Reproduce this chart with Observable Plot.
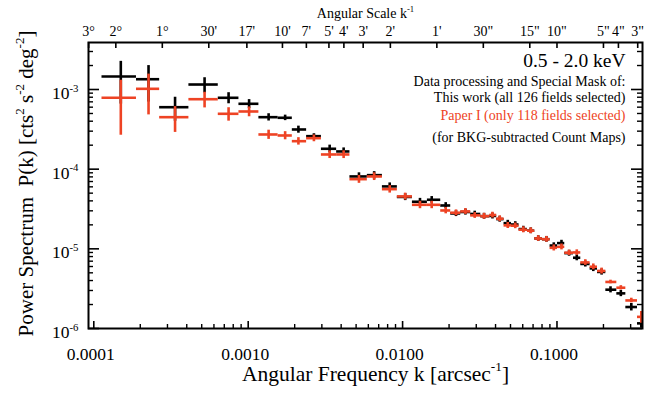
<!DOCTYPE html>
<html><head><meta charset="utf-8">
<script src="https://cdn.jsdelivr.net/npm/d3@7"></script>
<script src="https://cdn.jsdelivr.net/npm/@observablehq/plot@0.6"></script>
<style>
html,body{margin:0;padding:0;background:#fff}
svg{font-family:"Liberation Serif","Times New Roman",serif}
</style>
</head><body><div id="chart"></div>
<script>
// ---- data ----
const binEdges = [1.13e-4, 1.89e-4, 2.67e-4, 4.13e-4, 6.40e-4, 8.71e-4, 1.173e-3, 1.562e-3, 1.931e-3, 2.39e-3,
  2.98e-3, 3.74e-3, 4.56e-3, 5.91e-3, 7.40e-3, 9.25e-3, 0.01158, 0.01448, 0.01766, 0.0205,
  0.0238, 0.0276, 0.0321, 0.0367, 0.0407, 0.0454, 0.0507, 0.0568, 0.0644, 0.0718,
  0.0805, 0.0902, 0.1008, 0.1123, 0.1279, 0.1426, 0.1639, 0.1830, 0.2072, 0.2441,
  0.2792, 0.3324, 0.3707];
const kCenter = [1.496e-4, 2.262e-4, 3.36e-4, 5.218e-4, 7.464e-4, 1.0135e-3, 1.356e-3, 1.735e-3, 2.115e-3, 2.665e-3,
  3.37e-3, 4.151e-3, 5.218e-3, 6.545e-3, 8.251e-3, 0.010396, 0.012963, 0.015441, 0.019025, 0.022182,
  0.025527, 0.029325, 0.0337, 0.038194, 0.042584, 0.047998, 0.053674, 0.060497, 0.067639, 0.075619,
  0.085477, 0.095339, 0.10694, 0.11978, 0.13433, 0.15259, 0.17188, 0.19454, 0.22218, 0.25916,
  0.30304, 0.3517];
const pBlack = [1.456e-3, 1.346e-3, 5.995e-4, 1.155e-3, 7.867e-4, 6.616e-4, 4.493e-4, 4.416e-4, 3.148e-4, 2.595e-4,
  1.803e-4, 1.668e-4, 8.1e-5, 8.41e-5, 6.07e-5, 4.48e-5, 3.90e-5, 4.13e-5, 3.50e-5, 2.78e-5,
  2.90e-5, 2.74e-5, 2.57e-5, 2.59e-5, 2.36e-5, 2.10e-5, 2.02e-5, 1.77e-5, 1.69e-5, 1.35e-5,
  1.32e-5, 1.10e-5, 1.18e-5, 8.83e-6, 7.73e-6, 6.46e-6, 5.68e-6, 5.13e-6, 3.07e-6, 2.76e-6,
  1.86e-6, 1.16e-6];
const eBlack = [8.0e-4, 6.5e-4, 2.0e-4, 2.5e-4, 1.25e-4, 8.5e-5, 4.7e-5, 3.5e-5, 3.2e-5, 1.9e-5,
  2.0e-5, 1.8e-5, 9e-6, 9e-6, 6.5e-6, 4.5e-6, 4e-6, 4e-6, 3e-6, 2.4e-6,
  2.5e-6, 2.3e-6, 2.2e-6, 2.2e-6, 2.0e-6, 1.8e-6, 1.7e-6, 1.5e-6, 1.4e-6, 1.1e-6,
  1.1e-6, 9e-7, 1.0e-6, 7.5e-7, 6.5e-7, 5.5e-7, 5e-7, 4.5e-7, 2.7e-7, 2.5e-7,
  2e-7, 1.5e-7];
const pRed = [7.867e-4, 1.020e-3, 4.493e-4, 7.554e-4, 4.955e-4, 5.297e-4, 2.725e-4, 2.647e-4, 2.245e-4, 2.449e-4,
  1.529e-4, 1.529e-4, 7.49e-5, 8.1e-5, 5.61e-5, 4.55e-5, 3.57e-5, 3.57e-5, 3.03e-5, 2.84e-5,
  2.95e-5, 2.63e-5, 2.57e-5, 2.66e-5, 2.39e-5, 1.97e-5, 1.95e-5, 1.74e-5, 1.69e-5, 1.35e-5,
  1.32e-5, 1.03e-5, 1.06e-5, 8.94e-6, 9.01e-6, 6.75e-6, 5.96e-6, 5.28e-6, 3.84e-6, 3.25e-6,
  2.25e-6, 1.40e-6];
const eRed = [5.2e-4, 5.4e-4, 1.6e-4, 1.68e-4, 9.5e-5, 7.5e-5, 3.6e-5, 3.1e-5, 2.4e-5, 2.4e-5,
  1.7e-5, 1.7e-5, 8.5e-6, 9e-6, 6e-6, 4.5e-6, 3.8e-6, 3.8e-6, 2.8e-6, 2.4e-6,
  2.5e-6, 2.2e-6, 2.2e-6, 2.2e-6, 2.0e-6, 1.7e-6, 1.6e-6, 1.5e-6, 1.4e-6, 1.1e-6,
  1.1e-6, 9e-7, 9e-7, 7e-7, 7e-7, 5.5e-7, 5e-7, 4.5e-7, 2e-7, 2e-7,
  1.5e-7, 2.4e-7];
const angScaleArcsec = [10800, 7200, 3600, 1800, 1020, 600, 420, 300, 240, 180, 120, 60, 30, 15, 10, 5, 4, 3];
const angLabels = ["3°", "2°", "1°", "30'", "17'", "10'", "7'", "5'", "4'", "3'", "2'", "1'", "30\"", "15\"", "10\"", "5\"", "4\"", "3\""];
const xTicks = [1e-4, 1e-3, 1e-2, 1e-1];
const yTicks = [1e-6, 1e-5, 1e-4, 1e-3];
const noteLines = ["0.5 - 2.0 keV", "Data processing and Special Mask of:", "This work (all 126 fields selected)",
  "Paper I (only 118 fields selected)", "(for BKG-subtracted Count Maps)"];
const titles = {
  x: "Angular Frequency k [arcsec^{-1}]",
  y: "Power Spectrum\u2002P(k) [cts^{2} s^{-2} deg^{-2}]",
  top: "Angular Scale k^{-1}"
};

// ---- layout ----
const W = 654, H = 396, ML = 88, MR = 12, MT = 42, MB = 68;
const FW = W - ML - MR, FH = H - MT - MB;
const RED = "#ee4324";

const mk = (p, e) => kCenter.map((k, i) => ({k, lo: binEdges[i], hi: binEdges[i + 1], p: p[i], e: e[i]}));
const blackData = mk(pBlack, eBlack), redData = mk(pRed, eRed);
const bars = (data, color) => [
  Plot.ruleY(data, {y: "p", x1: "lo", x2: "hi", stroke: color, strokeWidth: 2.6, clip: true}),
  Plot.ruleX(data, {x: "k", y1: d => d.p - d.e, y2: d => d.p + d.e, stroke: color, strokeWidth: 2.6, clip: true})
];
const angK = angScaleArcsec.map(s => 1 / s);
const xMinor = d3.range(-4, 0).flatMap(e => d3.range(2, 10).map(m => m * 10 ** e)).filter(v => v < 0.358);
const yMinor = d3.range(-6, -2).flatMap(e => d3.range(2, 10).map(m => m * 10 ** e)).filter(v => v < 3.89e-3);

const note = (i, base, size, color) => Plot.text([noteLines[i]], {
  frameAnchor: "top-right", textAnchor: "end", lineAnchor: "bottom",
  dx: -17, dy: base - MT, fontSize: size, fill: color || "black"
});

const chart = Plot.plot({
  width: W, height: H,
  marginLeft: ML, marginRight: MR, marginTop: MT, marginBottom: MB,
  style: {fontFamily: "Liberation Serif, serif", background: "white", color: "black"},
  x: {type: "log", domain: [9.24e-5, 0.358], label: null},
  y: {type: "log", domain: [1e-6, 3.89e-3], label: null},
  marks: [
    ...bars(blackData, "black"),
    ...bars(redData, RED),
    // ticks (inward)
    Plot.tickX(xTicks, {x: d => d, insetTop: FH - 7, stroke: "black", strokeWidth: 1.6}),
    Plot.tickX(xMinor, {x: d => d, insetTop: FH - 4, stroke: "black", strokeWidth: 1.4}),
    Plot.tickX(angK, {x: d => d, insetBottom: FH - 6, stroke: "black", strokeWidth: 1.6}),
    Plot.tickY(yTicks, {y: d => d, insetRight: FW - 11, stroke: "black", strokeWidth: 1.6}),
    Plot.tickY(yMinor, {y: d => d, insetRight: FW - 5, stroke: "black", strokeWidth: 1.4}),
    Plot.tickY(yTicks, {y: d => d, insetLeft: FW - 11, stroke: "black", strokeWidth: 1.6}),
    Plot.tickY(yMinor, {y: d => d, insetLeft: FW - 5, stroke: "black", strokeWidth: 1.4}),
    Plot.frame({stroke: "black", strokeWidth: 2}),
    // axes labels
    Plot.axisX({ticks: xTicks, tickFormat: d3.format(".4f"), tickSize: 0, tickPadding: 19, fontSize: 17.5, dx: -3, label: null}),
    Plot.axisY({ticks: yTicks, tickFormat: d => "10^{" + Math.round(Math.log10(d)) + "}", tickSize: 0, tickPadding: 10, fontSize: 17.5, dy: 4, label: null}),
    Plot.text(angLabels, {x: angK, frameAnchor: "top", lineAnchor: "bottom", dy: -7, fontSize: 14}),
    Plot.text([titles.top], {frameAnchor: "top", lineAnchor: "bottom", dy: -25, fontSize: 14}),
    Plot.text([titles.x], {frameAnchor: "bottom", lineAnchor: "bottom", dy: 52, dx: 10, fontSize: 21.5}),
    Plot.text([titles.y], {frameAnchor: "left", textAnchor: "middle", lineAnchor: "bottom", rotate: -90, dx: -56, dy: -2, fontSize: 21}),
    // annotations
    note(0, 66.7, 19.5),
    note(1, 85, 14),
    note(2, 101.7, 14),
    note(3, 119, 14, RED),
    note(4, 141.7, 14)
  ]
});
document.getElementById("chart").appendChild(chart);

// superscripts: turn "^{...}" into raised tspans
const NS = "http://www.w3.org/2000/svg";
chart.querySelectorAll("text").forEach(t => {
  const s = t.textContent;
  if (!s.includes("^{")) return;
  const fs = parseFloat(getComputedStyle(t).fontSize) || 14;
  const shift = fs * 0.42;
  const parts = s.split(/\^\{([^}]*)\}/);
  t.textContent = "";
  t.style.whiteSpace = "pre";
  let raised = false;
  parts.forEach((p, i) => {
    if (!p) return;
    const sup = i % 2 === 1;
    const ts = document.createElementNS(NS, "tspan");
    ts.textContent = p;
    if (sup && !raised) { ts.setAttribute("dy", -shift); raised = true; }
    else if (!sup && raised) { ts.setAttribute("dy", shift); raised = false; }
    if (sup) ts.setAttribute("font-size", (fs * 0.62).toFixed(1));
    t.appendChild(ts);
  });
});
</script>
</body></html>
